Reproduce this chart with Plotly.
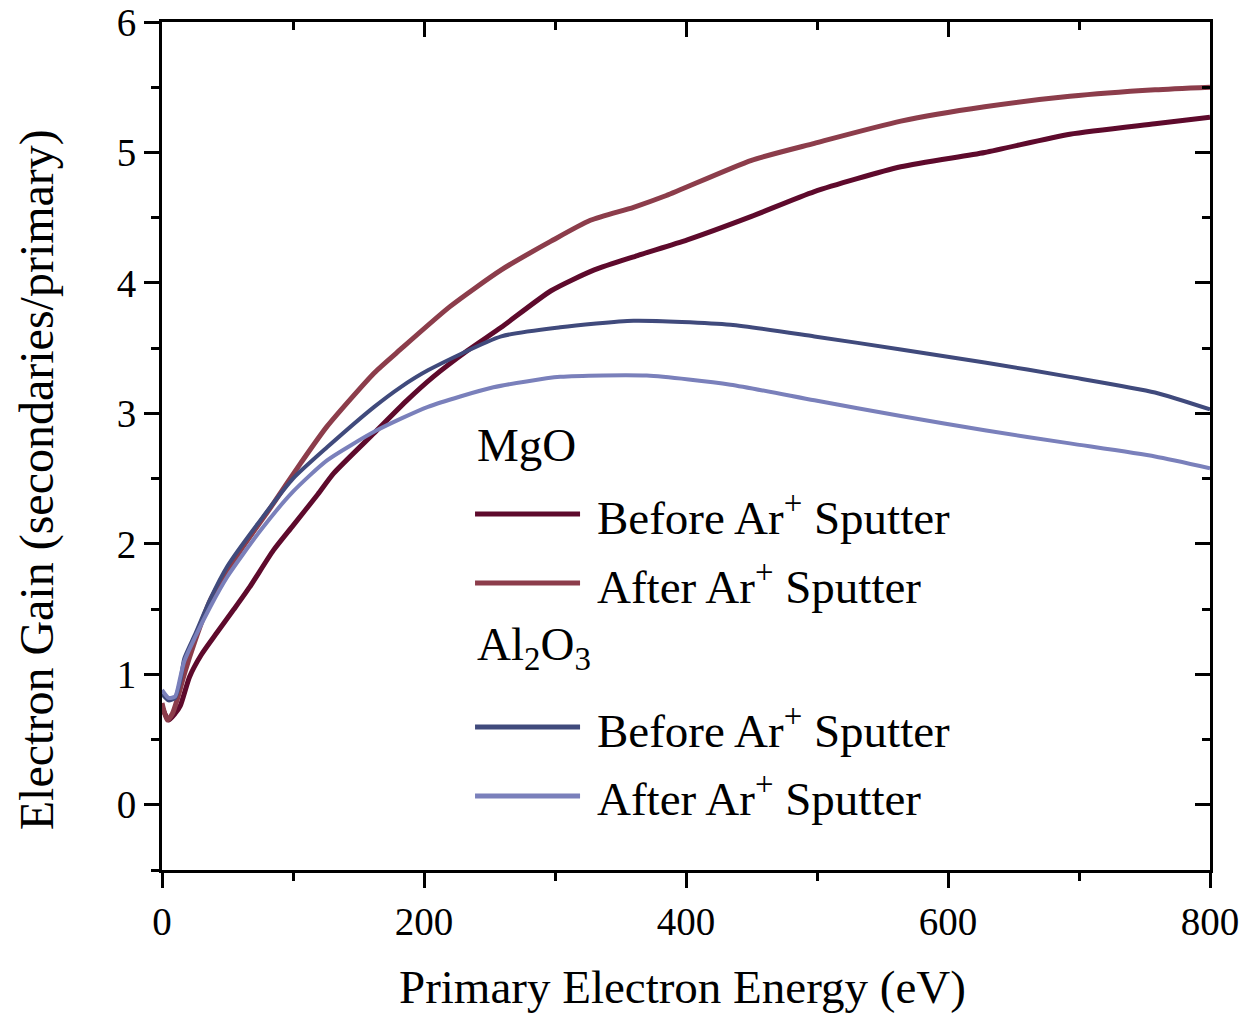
import plotly.graph_objects as go

# primary electron energy (eV) and electron gain
mgo_before_x = [0, 5, 10, 14, 21, 30, 42, 55, 67, 85, 100, 119, 131, 162, 187, 207, 233,
                259, 297, 330, 363, 401, 450, 498, 564, 628, 693, 758, 800]
mgo_before_y = [0.75, 0.65, 0.70, 0.76, 0.98, 1.15, 1.32, 1.50, 1.67, 1.95, 2.14, 2.38, 2.54,
                2.85, 3.10, 3.28, 3.48, 3.66, 3.94, 4.10, 4.21, 4.33, 4.51, 4.70, 4.89, 5.00,
                5.14, 5.22, 5.27]

mgo_after_x = [0, 4, 8, 12, 17, 25, 37, 60, 83, 106, 126, 162, 182, 220, 259, 297, 327,
               360, 385, 450, 498, 564, 628, 693, 758, 800]
mgo_after_y = [0.78, 0.65, 0.70, 0.82, 1.00, 1.25, 1.57, 1.95, 2.28, 2.62, 2.90, 3.31, 3.49,
               3.82, 4.10, 4.32, 4.48, 4.58, 4.67, 4.94, 5.07, 5.24, 5.35, 5.43, 5.48, 5.50]

al_before_x = [0, 5, 10, 14, 17, 25, 37, 50, 75, 100, 126, 162, 182, 203, 259, 304, 360,
               434, 498, 564, 628, 693, 758, 800]
al_before_y = [0.85, 0.80, 0.82, 0.95, 1.12, 1.30, 1.58, 1.83, 2.18, 2.50, 2.74, 3.05, 3.20,
               3.33, 3.59, 3.66, 3.71, 3.68, 3.59, 3.49, 3.39, 3.28, 3.16, 3.03]

al_after_x = [0, 5, 10, 14, 17, 25, 37, 50, 75, 100, 126, 164, 203, 253, 304, 370, 434,
              498, 564, 628, 693, 758, 800]
al_after_y = [0.88, 0.82, 0.83, 0.98, 1.10, 1.28, 1.52, 1.75, 2.10, 2.40, 2.64, 2.87, 3.05,
              3.20, 3.28, 3.29, 3.22, 3.10, 2.98, 2.87, 2.77, 2.67, 2.58]

x_ticks = [0, 200, 400, 600, 800]
y_ticks = [0, 1, 2, 3, 4, 5, 6]

C_MGO_B = '#5e0a2c'
C_MGO_A = '#8c3d4b'
C_AL_B = '#404a7c'
C_AL_A = '#7a80bb'
FONT = 'Liberation Serif, Times New Roman, serif'

fig = go.Figure()

series = [
    (mgo_before_x, mgo_before_y, C_MGO_B, 5, 'MgO before'),
    (mgo_after_x, mgo_after_y, C_MGO_A, 5, 'MgO after'),
    (al_before_x, al_before_y, C_AL_B, 4, 'Al2O3 before'),
    (al_after_x, al_after_y, C_AL_A, 4, 'Al2O3 after'),
]
for xs, ys, col, w, nm in series:
    fig.add_trace(go.Scatter(x=xs, y=ys, mode='lines', name=nm, showlegend=False,
                             line=dict(color=col, width=w, shape='spline', smoothing=0.6)))

# dummy trace so the mirrored top/right axes get drawn
fig.add_trace(go.Scatter(x=[None], y=[None], xaxis='x2', yaxis='y2',
                         showlegend=False, hoverinfo='skip'))

ax_common = dict(showline=True, linecolor='black', linewidth=3, showgrid=False,
                 zeroline=False, tickcolor='black', tickwidth=3, mirror=False,
                 automargin=False, ticklabeloverflow='allow')

fig.update_layout(
    width=1241, height=1013,
    margin=dict(l=162, r=31, t=22, b=143),
    plot_bgcolor='white', paper_bgcolor='white',
    font=dict(family=FONT, color='black', size=39),
    xaxis=dict(range=[0, 800], tickvals=x_ticks, ticks='outside', ticklen=15,
               minor=dict(dtick=100, ticks='outside', ticklen=8, tickwidth=3, tickcolor='black'),
               tickfont=dict(size=39), **ax_common),
    yaxis=dict(range=[-0.5, 6], tickvals=y_ticks, ticks='outside', ticklen=15,
               minor=dict(dtick=0.5, ticks='outside', ticklen=8, tickwidth=3, tickcolor='black'),
               tickfont=dict(size=39), **ax_common),
    xaxis2=dict(range=[0, 800], overlaying='x', side='top', tickvals=x_ticks, ticks='inside',
                ticklen=15, showticklabels=False,
                minor=dict(dtick=100, ticks='inside', ticklen=8, tickwidth=3, tickcolor='black'),
                **ax_common),
    yaxis2=dict(range=[-0.5, 6], overlaying='y', side='right', tickvals=y_ticks, ticks='inside',
                ticklen=15, showticklabels=False,
                minor=dict(dtick=0.5, ticks='inside', ticklen=8, tickwidth=3, tickcolor='black'),
                **ax_common),
    showlegend=False,
)

# axis titles
fig.add_annotation(text='Primary Electron Energy (eV)', xref='paper', yref='paper',
                   x=0.497, y=-0.138, showarrow=False, xanchor='center', yanchor='middle',
                   font=dict(size=47))
fig.add_annotation(text='Electron Gain (secondaries/primary)', xref='paper', yref='paper',
                   x=-0.119, y=0.46, textangle=-90, showarrow=False,
                   xanchor='center', yanchor='middle', font=dict(size=48))

# hand-drawn legend with group headers
lx0, lx1, tx = 0.2987, 0.3989, 0.4132
headers = [('MgO', 0.501), ('Al<sub>2</sub>O<sub>3</sub>', 0.262)]
for txt, yy in headers:
    fig.add_annotation(text=txt, xref='paper', yref='paper', x=lx0, y=yy, showarrow=False,
                       xanchor='left', yanchor='middle', font=dict(size=47))

entries = [
    (C_MGO_B, 'Before Ar<sup>+</sup> Sputter', 0.4198),
    (C_MGO_A, 'After Ar<sup>+</sup> Sputter', 0.3384),
    (C_AL_B, 'Before Ar<sup>+</sup> Sputter', 0.1686),
    (C_AL_A, 'After Ar<sup>+</sup> Sputter', 0.0873),
]
for col, txt, yy in entries:
    fig.add_shape(type='line', xref='paper', yref='paper', x0=lx0, x1=lx1, y0=yy, y1=yy,
                  line=dict(color=col, width=5))
    fig.add_annotation(text=txt, xref='paper', yref='paper', x=tx, y=yy, showarrow=False,
                       xanchor='left', yanchor='middle', font=dict(size=47))

# drop the default 8px body margin so the figure fills the window exactly
fig.write_html('out.html', config={'displayModeBar': False},
               post_script="document.body.style.margin='0';document.body.style.overflow='hidden';")
